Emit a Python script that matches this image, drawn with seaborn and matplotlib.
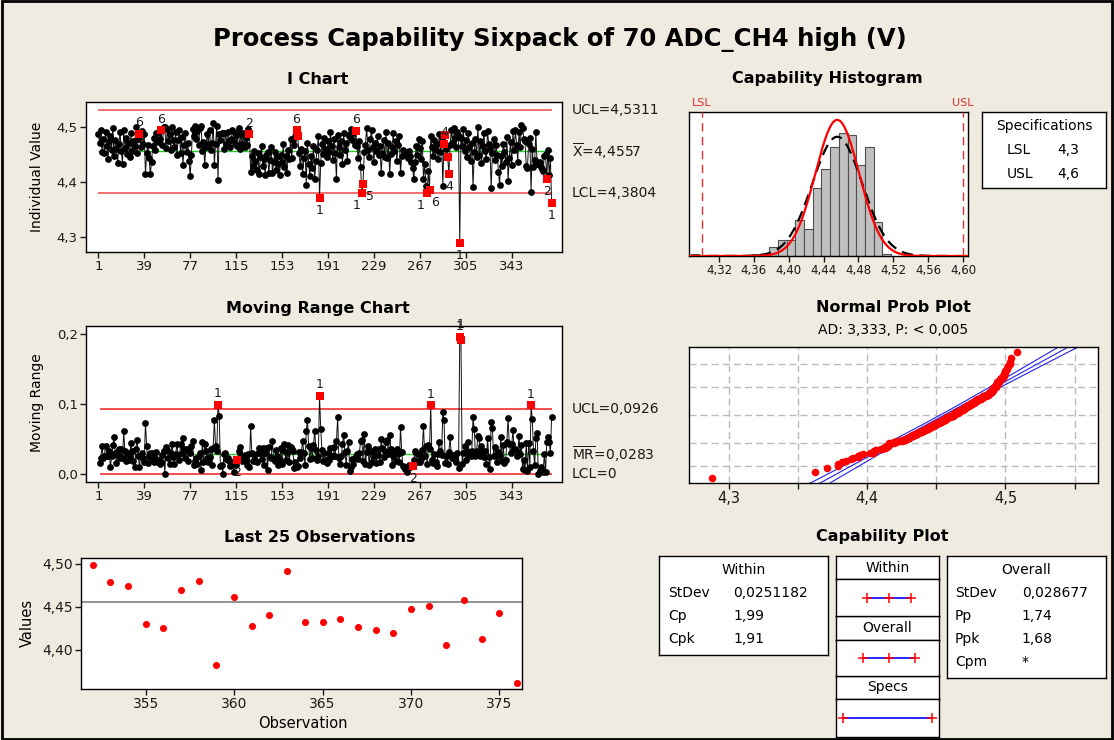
import numpy as np
import pandas as pd
import matplotlib
matplotlib.use("Agg")
import matplotlib.pyplot as plt
import seaborn as sns
from matplotlib.patches import Rectangle
from statistics import NormalDist

# ---------------- data ----------------
individual_values = [
    4.487, 4.472, 4.495, 4.455, 4.478, 4.452, 4.492, 4.466, 4.441, 4.474,
    4.483, 4.458, 4.499, 4.447, 4.476, 4.461, 4.434, 4.469, 4.491, 4.456,
    4.433, 4.494, 4.462, 4.480, 4.451, 4.471, 4.445, 4.489, 4.457, 4.475,
    4.466, 4.501, 4.452, 4.478, 4.488, 4.463, 4.493, 4.470, 4.487, 4.414,
    4.453, 4.468, 4.443, 4.414, 4.436, 4.465, 4.481, 4.459, 4.490, 4.473,
    4.492, 4.478, 4.494, 4.467, 4.500, 4.500, 4.462, 4.496, 4.474, 4.488,
    4.458, 4.501, 4.477, 4.463, 4.491, 4.449, 4.476, 4.495, 4.452, 4.482,
    4.431, 4.467, 4.490, 4.454, 4.472, 4.439, 4.410, 4.450, 4.497, 4.484,
    4.502, 4.479, 4.493, 4.468, 4.498, 4.503, 4.457, 4.473, 4.431, 4.464,
    4.487, 4.470, 4.494, 4.459, 4.471, 4.508, 4.431, 4.470, 4.503, 4.404,
    4.487, 4.476, 4.489, 4.489, 4.461, 4.490, 4.469, 4.492, 4.474, 4.463,
    4.478, 4.494, 4.491, 4.472, 4.485, 4.466, 4.499, 4.461, 4.488, 4.470,
    4.490, 4.463, 4.481, 4.468, 4.496, 4.487, 4.419, 4.448, 4.430, 4.457,
    4.438, 4.422, 4.452, 4.415, 4.445, 4.466, 4.429, 4.442, 4.412, 4.449,
    4.454, 4.416, 4.440, 4.463, 4.416, 4.437, 4.455, 4.421, 4.446, 4.433,
    4.413, 4.450, 4.436, 4.470, 4.428, 4.447, 4.417, 4.458, 4.441, 4.479,
    4.443, 4.476, 4.468, 4.484, 4.494, 4.483, 4.452, 4.430, 4.461, 4.414,
    4.444, 4.456, 4.395, 4.472, 4.432, 4.411, 4.448, 4.425, 4.466, 4.405,
    4.439, 4.458, 4.483, 4.371, 4.435, 4.469, 4.451, 4.480, 4.460, 4.445,
    4.474, 4.455, 4.492, 4.466, 4.440, 4.478, 4.452, 4.405, 4.486, 4.463,
    4.449, 4.475, 4.433, 4.489, 4.458, 4.471, 4.438, 4.484, 4.488, 4.497,
    4.476, 4.490, 4.467, 4.493, 4.465, 4.444, 4.474, 4.427, 4.379, 4.397,
    4.454, 4.468, 4.499, 4.459, 4.446, 4.479, 4.495, 4.463, 4.437, 4.472,
    4.457, 4.484, 4.449, 4.466, 4.416, 4.453, 4.477, 4.445, 4.491, 4.443,
    4.471, 4.415, 4.451, 4.464, 4.489, 4.456, 4.474, 4.439, 4.467, 4.483,
    4.416, 4.447, 4.458, 4.449, 4.455, 4.452, 4.444, 4.456, 4.447, 4.436,
    4.425, 4.405, 4.437, 4.466, 4.450, 4.478, 4.462, 4.441, 4.475, 4.406,
    4.432, 4.393, 4.379, 4.420, 4.385, 4.483, 4.463, 4.448, 4.476, 4.459,
    4.470, 4.442, 4.488, 4.455, 4.482, 4.393, 4.470, 4.485, 4.460, 4.446,
    4.415, 4.467, 4.494, 4.472, 4.499, 4.480, 4.463, 4.492, 4.484, 4.288,
    4.480, 4.466, 4.496, 4.457, 4.477, 4.445, 4.490, 4.463, 4.438, 4.471,
    4.390, 4.454, 4.479, 4.446, 4.500, 4.449, 4.474, 4.434, 4.465, 4.489,
    4.456, 4.442, 4.493, 4.469, 4.462, 4.388, 4.453, 4.478, 4.440, 4.467,
    4.450, 4.419, 4.394, 4.447, 4.429, 4.470, 4.455, 4.436, 4.482, 4.402,
    4.444, 4.473, 4.431, 4.493, 4.458, 4.494, 4.468, 4.437, 4.491, 4.463, 4.504,
    4.498, 4.479, 4.474, 4.430, 4.426, 4.470, 4.480, 4.382, 4.461, 4.428,
    4.440, 4.491, 4.432, 4.432, 4.436, 4.427, 4.423, 4.420, 4.448, 4.451,
    4.406, 4.458, 4.413, 4.443, 4.362,
]
obs_ticks = [1, 39, 77, 115, 153, 191, 229, 267, 305, 343]
last_ticks = [355, 360, 365, 370, 375]
last_count = 25

i_center, i_ucl, i_lcl = 4.4557, 4.5311, 4.3804
mr_center, mr_ucl, mr_lcl = 0.0283, 0.0926, 0.0
lsl, usl = 4.3, 4.6
mean_value = 4.4557
stdev_within = 0.0251182
stdev_overall = 0.028677
within_rows = [("StDev", "0,0251182"), ("Cp", "1,99"), ("Cpk", "1,91")]
overall_rows = [("StDev", "0,028677"), ("Pp", "1,74"), ("Ppk", "1,68"), ("Cpm", "*")]
spec_rows = [("LSL", "4,3"), ("USL", "4,6")]
ad_text = "AD: 3,333, P: < 0,005"

i_flag_obs = [35, 53, 126, 165, 166, 184, 214, 219, 220, 273, 275, 287, 288, 290, 291, 300, 372, 376]
i_label_obs = [35, 53, 126, 165, 184, 214, 219, 220, 273, 275, 287, 291, 300, 372, 376]
i_label_txt = ["6", "6", "2", "6", "1", "6", "1", "5", "1", "6", "4", "4", "1", "2", "1"]
i_label_up = [1, 1, 1, 1, 0, 1, 0, 0, 0, 0, 1, 0, 0, 0, 0]
i_label_dx = [0, 0, 0, 0, 0, 0, -4, 5, -5, 4, 0, 0, 0, 0, 0]
mr_flag_obs = [100, 116, 184, 261, 276, 300, 301, 359]
mr_label_txt = ["1", "2", "1", "2", "1", "1", "1", "1"]
mr_label_up = [1, 0, 1, 0, 1, 1, 1, 1]
mr_label_dy = [0, 0, 0, 0, 0, 0, 3, 0]

hist_bin_start, hist_bin_width, hist_bin_count = 4.2875, 0.01, 23
hist_ticks = [4.32, 4.36, 4.40, 4.44, 4.48, 4.52, 4.56, 4.60]
prob_levels = [1, 10, 50, 90, 99]
prob_grid_x = [4.30, 4.35, 4.40, 4.45, 4.50, 4.55]
prob_label_x = [4.3, 4.4, 4.5]

# ---------------- style ----------------
sns.set_theme(style="white")
plt.rcParams["font.family"] = ["DejaVu Sans"]
plt.rcParams["axes.edgecolor"] = "black"
plt.rcParams["axes.linewidth"] = 1.0
plt.rcParams["text.color"] = "black"
plt.rcParams["axes.labelcolor"] = "black"

W, H = 1114, 740
BG = "#EFEBE0"
fig = plt.figure(figsize=(W / 100, H / 100), dpi=100, facecolor=BG)


def px_axes(x0, y0, x1, y1):
    a = fig.add_axes([x0 / W, 1 - y1 / H, (x1 - x0) / W, (y1 - y0) / H])
    a.set_facecolor("white")
    for sp in a.spines.values():
        sp.set_color("black")
        sp.set_linewidth(1)
    return a


def comma(v, nd):
    return f"{v:.{nd}f}".replace(".", ",")


def style_ticks(a):
    a.tick_params(axis="both", which="both", direction="out", length=4, width=1,
                  labelsize=9.5, colors="#1A1A1A", bottom=True, left=True, pad=2)
    a.set_xlabel("")
    a.set_ylabel("")


def ftext(x, y, s, **kw):
    fig.text(x / W, 1 - y / H, s, ha=kw.pop("ha", "center"), va=kw.pop("va", "center"),
             color=kw.pop("color", "black"), **kw)


vals = np.array(individual_values)
n = len(vals)
obs = np.arange(1, n + 1)
df = pd.DataFrame({"obs": obs, "value": vals})
mr_df = pd.DataFrame({"obs": obs[1:], "mr": np.abs(np.diff(vals))})

ftext(560, 40, "Process Capability Sixpack of 70 ADC_CH4 high (V)", fontsize=17.5, fontweight="bold")

# ---------------- I chart ----------------
ax1 = px_axes(86, 102, 562, 252)
sns.lineplot(data=df, x="obs", y="value", ax=ax1, color="#111111", linewidth=0.7,
             estimator=None, sort=False, zorder=2)
sns.scatterplot(data=df, x="obs", y="value", ax=ax1, color="black", s=24, linewidth=0, zorder=3)
sns.scatterplot(data=df[df.obs.isin(i_flag_obs)], x="obs", y="value", ax=ax1, color="red",
                marker="s", s=38, linewidth=0, zorder=4)
ax1.hlines([i_ucl, i_lcl], 1, n, color="#F05555", lw=1.2, zorder=1)
ax1.hlines(i_center, 1, n, color="#22CC22", lw=1, zorder=1)
for o, t, up, dx in zip(i_label_obs, i_label_txt, i_label_up, i_label_dx):
    ax1.annotate(t, (o, vals[o - 1]), xytext=(dx, 8 if up else -9), textcoords="offset points",
                 ha="center", va="center", fontsize=9, color="#1A1A1A", zorder=5)
ax1.set_xlim(-9.2, 384.6)
ax1.set_ylim(4.272, 4.546)
ax1.set_xticks(obs_ticks)
ax1.set_xticklabels([str(t) for t in obs_ticks])
ax1.set_yticks([4.3, 4.4, 4.5])
ax1.set_yticklabels(["4,3", "4,4", "4,5"])
style_ticks(ax1)
for y, s in [(i_ucl, f"UCL={comma(i_ucl, 4)}"),
             (i_center, r"$\overline{\mathrm{X}}$=" + comma(i_center, 4)),
             (i_lcl, f"LCL={comma(i_lcl, 4)}")]:
    ax1.annotate(s, (1.021, y), xycoords=("axes fraction", "data"), ha="left", va="center",
                 fontsize=10, color="#1A1A1A", annotation_clip=False)
ftext(318, 80, "I Chart", fontsize=11.5, fontweight="bold")
ftext(37, 177, "Individual Value", rotation=90, fontsize=10)

# ---------------- Moving range chart ----------------
ax2 = px_axes(86, 326, 562, 482)
sns.lineplot(data=mr_df, x="obs", y="mr", ax=ax2, color="#111111", linewidth=0.7,
             estimator=None, sort=False, zorder=2)
sns.scatterplot(data=mr_df, x="obs", y="mr", ax=ax2, color="black", s=24, linewidth=0, zorder=3)
mr_fl = mr_df[mr_df.obs.isin(mr_flag_obs)]
sns.scatterplot(data=mr_fl, x="obs", y="mr", ax=ax2, color="red", marker="s", s=38,
                linewidth=0, zorder=4)
ax2.hlines([mr_ucl, mr_lcl], 2, n, color="#F03030", lw=1.2, zorder=1)
ax2.hlines(mr_center, 2, n, color="#22CC22", lw=1, zorder=1)
mr_map = dict(zip(mr_df.obs, mr_df.mr))
for o, t, up, dy in zip(mr_flag_obs, mr_label_txt, mr_label_up, mr_label_dy):
    ax2.annotate(t, (o, mr_map[o]), xytext=(0, (8 + dy) if up else -9), textcoords="offset points",
                 ha="center", va="center", fontsize=9, color="#1A1A1A", zorder=5)
ax2.set_xlim(-9.2, 384.6)
ax2.set_ylim(-0.012, 0.212)
ax2.set_xticks(obs_ticks)
ax2.set_xticklabels([str(t) for t in obs_ticks])
ax2.set_yticks([0.0, 0.1, 0.2])
ax2.set_yticklabels(["0,0", "0,1", "0,2"])
style_ticks(ax2)
for y, s in [(mr_ucl, f"UCL={comma(mr_ucl, 4)}"),
             (mr_center, r"$\overline{\mathrm{MR}}$=" + comma(mr_center, 4)),
             (mr_lcl, "LCL=0")]:
    ax2.annotate(s, (1.021, y), xycoords=("axes fraction", "data"), ha="left", va="center",
                 fontsize=10, color="#1A1A1A", annotation_clip=False)
ftext(318, 308, "Moving Range Chart", fontsize=11.5, fontweight="bold")
ftext(37, 403, "Moving Range", rotation=90, fontsize=10)

# ---------------- Last 25 observations ----------------
ax3 = px_axes(81, 558, 522, 689)
last_df = df.tail(last_count)
sns.scatterplot(data=last_df, x="obs", y="value", ax=ax3, color="red", s=26, linewidth=0, zorder=3)
ax3.axhline(mean_value, color="#808080", lw=1.2, zorder=1)
ax3.set_xlim(351.34, 376.28)
ax3.set_ylim(4.3547, 4.5066)
ax3.set_xticks(last_ticks)
ax3.set_xticklabels([str(t) for t in last_ticks])
ax3.set_yticks([4.40, 4.45, 4.50])
ax3.set_yticklabels(["4,40", "4,45", "4,50"])
style_ticks(ax3)
ax3.tick_params(labelsize=10)
ftext(320, 537, "Last 25 Observations", fontsize=11.5, fontweight="bold")
ftext(27, 623, "Values", rotation=90, fontsize=10.5)
ftext(303, 724, "Observation", fontsize=10.5)

# ---------------- Capability histogram ----------------
ax4 = px_axes(689, 112, 968, 256)
edges = [hist_bin_start + hist_bin_width * k for k in range(hist_bin_count + 1)]
sns.histplot(x=vals, bins=edges, stat="density", ax=ax4, color="#C0C0C0",
             edgecolor="#505050", linewidth=0.8, alpha=1, zorder=2)
xs = np.linspace(4.2856, 4.6057, 500)
pdf_w = np.exp(-0.5 * ((xs - mean_value) / stdev_within) ** 2) / (stdev_within * np.sqrt(2 * np.pi))
pdf_o = np.exp(-0.5 * ((xs - mean_value) / stdev_overall) ** 2) / (stdev_overall * np.sqrt(2 * np.pi))
sns.lineplot(x=xs, y=pdf_o, ax=ax4, color="black", linewidth=1.6, linestyle=(0, (5, 3)), zorder=3)
sns.lineplot(x=xs, y=pdf_w, ax=ax4, color="red", linewidth=1.6, zorder=4)
for v, s in [(lsl, "LSL"), (usl, "USL")]:
    ax4.axvline(v, color="#E03030", lw=1, linestyle=(0, (6, 4)), zorder=5)
    ax4.annotate(s, (v, 1.03), xycoords=("data", "axes fraction"), ha="center", va="bottom",
                 fontsize=8, color="#E03030", annotation_clip=False)
ax4.set_xlim(4.2856, 4.6057)
ax4.set_ylim(0, 16.8)
ax4.set_xticks(hist_ticks)
ax4.set_xticklabels([comma(t, 2) for t in hist_ticks])
ax4.set_yticks([])
style_ticks(ax4)
ax4.tick_params(axis="x", labelsize=8.5)
ftext(827, 79, "Capability Histogram", fontsize=11.5, fontweight="bold")

axs = px_axes(982, 112, 1106, 188)
axs.set_xticks([]); axs.set_yticks([])
axs.text(0.5, 0.81, "Specifications", ha="center", va="center", fontsize=10, transform=axs.transAxes)
for i, (k, v) in enumerate(spec_rows):
    yy = 0.50 - i * 0.31
    axs.text(0.20, yy, k, ha="left", va="center", fontsize=10, transform=axs.transAxes)
    axs.text(0.61, yy, v, ha="left", va="center", fontsize=10, transform=axs.transAxes)

# ---------------- Normal probability plot ----------------
ax5 = px_axes(689, 347, 1098, 483)
sorted_vals = np.sort(vals)
ranks = np.arange(1, n + 1)
zq = np.array([NormalDist().inv_cdf((r - 0.3) / (n + 0.4)) for r in ranks])
zl = np.linspace(-3.3, 3.3, 200)
fit = mean_value + zl * stdev_overall
band = 1.96 * stdev_overall * np.sqrt(1 / n + zl ** 2 / (2 * (n - 1)))
for xline in (fit - band, fit, fit + band):
    sns.lineplot(x=xline, y=zl, ax=ax5, color="#2222EE", linewidth=0.8, sort=False,
                 estimator=None, zorder=2)
sns.scatterplot(x=sorted_vals, y=zq, ax=ax5, color="red", s=30, linewidth=0, zorder=3)
for gx in prob_grid_x:
    ax5.axvline(gx, color="#BBBBBB", lw=1, linestyle=(0, (5, 3)), zorder=0)
for p in prob_levels:
    ax5.axhline(NormalDist().inv_cdf(p / 100), color="#BBBBBB", lw=1, linestyle=(0, (5, 3)), zorder=0)
ax5.set_xlim(4.2711, 4.5669)
ax5.set_ylim(-3.13, 3.13)
ax5.set_xticks(prob_grid_x)
ax5.set_xticklabels([comma(g, 1) if any(abs(g - l) < 1e-9 for l in prob_label_x) else "" for g in prob_grid_x])
ax5.set_yticks([])
style_ticks(ax5)
ax5.tick_params(axis="x", labelsize=10.5)
ftext(893, 308, "Normal Prob Plot", fontsize=11.5, fontweight="bold")
ftext(893, 330, ad_text, fontsize=10)

# ---------------- Capability plot ----------------
ftext(882, 537, "Capability Plot", fontsize=11.5, fontweight="bold")

axw = px_axes(659, 556, 828, 655)
axw.set_xticks([]); axw.set_yticks([])
axw.text(0.5, 0.855, "Within", ha="center", va="center", fontsize=10, transform=axw.transAxes)
for i, (k, v) in enumerate(within_rows):
    yy = 0.63 - i * 0.235
    axw.text(0.055, yy, k, ha="left", va="center", fontsize=10, transform=axw.transAxes)
    axw.text(0.44, yy, v, ha="left", va="center", fontsize=10, transform=axw.transAxes)

axo = px_axes(947, 556, 1106, 678)
axo.set_xticks([]); axo.set_yticks([])
axo.text(0.5, 0.885, "Overall", ha="center", va="center", fontsize=10, transform=axo.transAxes)
for i, (k, v) in enumerate(overall_rows):
    yy = 0.70 - i * 0.19
    axo.text(0.05, yy, k, ha="left", va="center", fontsize=10, transform=axo.transAxes)
    axo.text(0.47, yy, v, ha="left", va="center", fontsize=10, transform=axo.transAxes)

header_boxes = [(556, 579, "Within"), (616, 640, "Overall"), (676, 699, "Specs")]
plot_boxes = [(579, 616), (640, 676), (699, 737)]
for y0, y1, t in header_boxes:
    ah = px_axes(836, y0, 939, y1)
    ah.set_xticks([]); ah.set_yticks([])
    ah.text(0.5, 0.5, t, ha="center", va="center", fontsize=10, transform=ah.transAxes)

intervals = [
    [mean_value - 3 * stdev_within, mean_value, mean_value + 3 * stdev_within],
    [mean_value - 3 * stdev_overall, mean_value, mean_value + 3 * stdev_overall],
    [lsl, usl],
]
for (y0, y1), pts in zip(plot_boxes, intervals):
    ap = px_axes(836, y0, 939, y1)
    sns.lineplot(x=[pts[0], pts[-1]], y=[0.5, 0.5], ax=ap, color="blue", linewidth=1.2, zorder=2)
    sns.scatterplot(x=pts, y=[0.5] * len(pts), ax=ap, color="red", marker="+", s=60,
                    linewidth=1.1, zorder=3)
    ap.set_xlim(4.2776, 4.6234)
    ap.set_ylim(0, 1)
    ap.set_xticks([]); ap.set_yticks([])
    ap.set_xlabel(""); ap.set_ylabel("")

fig.patches.append(Rectangle((0.0015, 0.0015), 0.997, 0.997, transform=fig.transFigure,
                             fill=False, edgecolor="black", linewidth=2))

fig.savefig("out.png", dpi=100, facecolor=BG)
